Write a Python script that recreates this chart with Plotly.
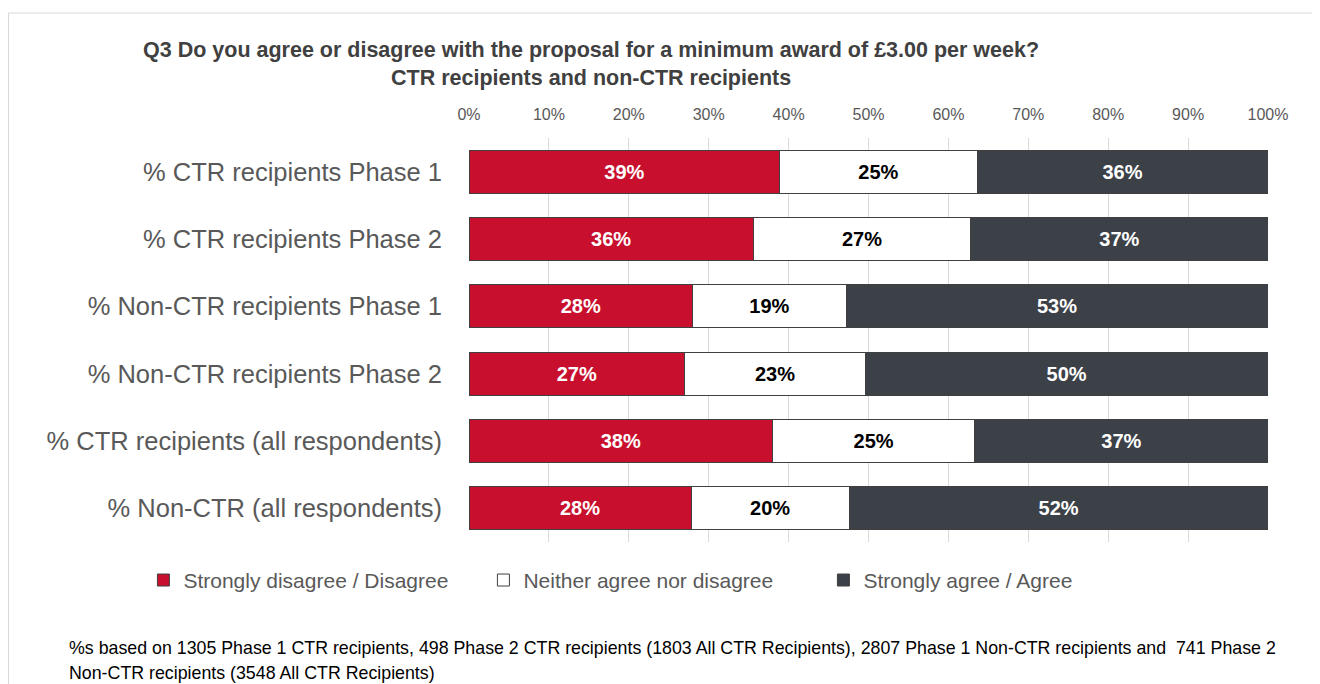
import plotly.graph_objects as go

# survey groups, top to bottom
groups = [
    "% CTR recipients Phase 1",
    "% CTR recipients Phase 2",
    "% Non-CTR recipients Phase 1",
    "% Non-CTR recipients Phase 2",
    "% CTR recipients (all respondents)",
    "% Non-CTR (all respondents)",
]

# shares (fractions of 1)
disagree = [0.389, 0.356, 0.280, 0.270, 0.380, 0.278]
neither = [0.247, 0.272, 0.192, 0.226, 0.253, 0.198]
agree = [0.364, 0.372, 0.528, 0.504, 0.367, 0.524]

x_ticks = [0, 0.1, 0.2, 0.3, 0.4, 0.5, 0.6, 0.7, 0.8, 0.9, 1.0]

series = [
    ("Strongly disagree / Disagree", disagree, "#C8102E", "white"),
    ("Neither agree nor disagree", neither, "#FFFFFF", "black"),
    ("Strongly agree / Agree", agree, "#3C4047", "white"),
]

FONT = "Liberation Sans"

# the page puts the figure 8px in from the top-left corner,
# so the figure is made 8px smaller and the plot area placed to suit
fig = go.Figure()
for name, vals, colour, txt_colour in series:
    fig.add_trace(go.Bar(
        y=groups, x=vals, name=name, orientation="h",
        marker=dict(color=colour, line=dict(color="#404040", width=1)),
        texttemplate="%{x:.0%}", textposition="inside",
        insidetextanchor="middle", textangle=0,
        textfont=dict(family=FONT, size=20, color=txt_colour, weight="bold"),
        width=0.64,
    ))

fig.update_layout(
    barmode="stack",
    width=1312, height=676,
    margin=dict(l=461, r=52, t=130, b=142),
    paper_bgcolor="white", plot_bgcolor="white",
    font=dict(family=FONT, color="#595959"),
    showlegend=True,
    legend=dict(
        orientation="h", x=-0.4075, xanchor="left", y=-0.095, yanchor="middle",
        font=dict(family=FONT, size=21, color="#595959"),
        traceorder="normal", entrywidth=295,
    ),
)

fig.update_xaxes(
    side="top", range=[0, 1], tickvals=x_ticks, tickformat=".0%",
    showgrid=True, gridcolor="#D9D9D9", gridwidth=1,
    zeroline=False, showline=False, ticks="",
    tickfont=dict(family=FONT, size=16, color="#595959"),
    ticklabelstandoff=14, fixedrange=True,
)
fig.update_yaxes(
    autorange="reversed", showgrid=False, showline=False, ticks="",
    tickfont=dict(family=FONT, size=25.5, color="#595959"),
    ticklabelstandoff=26, fixedrange=True,
)

# title
fig.add_annotation(
    xref="paper", yref="paper", x=(591 - 469) / 799, y=(542 - 50) / 404,
    text="Q3 Do you agree or disagree with the proposal for a minimum award of £3.00 per week?",
    showarrow=False, xanchor="center", yanchor="middle",
    font=dict(family=FONT, size=21.5, color="#404040", weight="bold"),
)
fig.add_annotation(
    xref="paper", yref="paper", x=(591 - 469) / 799, y=(542 - 78) / 404,
    text="CTR recipients and non-CTR recipients",
    showarrow=False, xanchor="center", yanchor="middle",
    font=dict(family=FONT, size=21.5, color="#404040", weight="bold"),
)

# footnote
fig.add_annotation(
    xref="paper", yref="paper", x=(67 - 469) / 799, y=(542 - 648) / 404,
    text="%s based on 1305 Phase 1 CTR recipients, 498 Phase 2 CTR recipients (1803 All CTR Recipients), 2807 Phase 1 Non-CTR recipients and  741 Phase 2",
    showarrow=False, xanchor="left", yanchor="middle",
    font=dict(family=FONT, size=17.8, color="black"),
)
fig.add_annotation(
    xref="paper", yref="paper", x=(67 - 469) / 799, y=(542 - 673) / 404,
    text="Non-CTR recipients (3548 All CTR Recipients)",
    showarrow=False, xanchor="left", yanchor="middle",
    font=dict(family=FONT, size=17.8, color="black"),
)

# chart frame
fig.add_shape(type="line", xref="paper", yref="paper",
              x0=(8.5 - 469) / 799, x1=(1320 - 469) / 799,
              y0=(542 - 13) / 404, y1=(542 - 13) / 404,
              line=dict(color="#D9D9D9", width=1))
fig.add_shape(type="line", xref="paper", yref="paper",
              x0=(8.5 - 469) / 799, x1=(8.5 - 469) / 799,
              y0=(542 - 13) / 404, y1=(542 - 690) / 404,
              line=dict(color="#D9D9D9", width=1))

fig.write_html("out.html")
